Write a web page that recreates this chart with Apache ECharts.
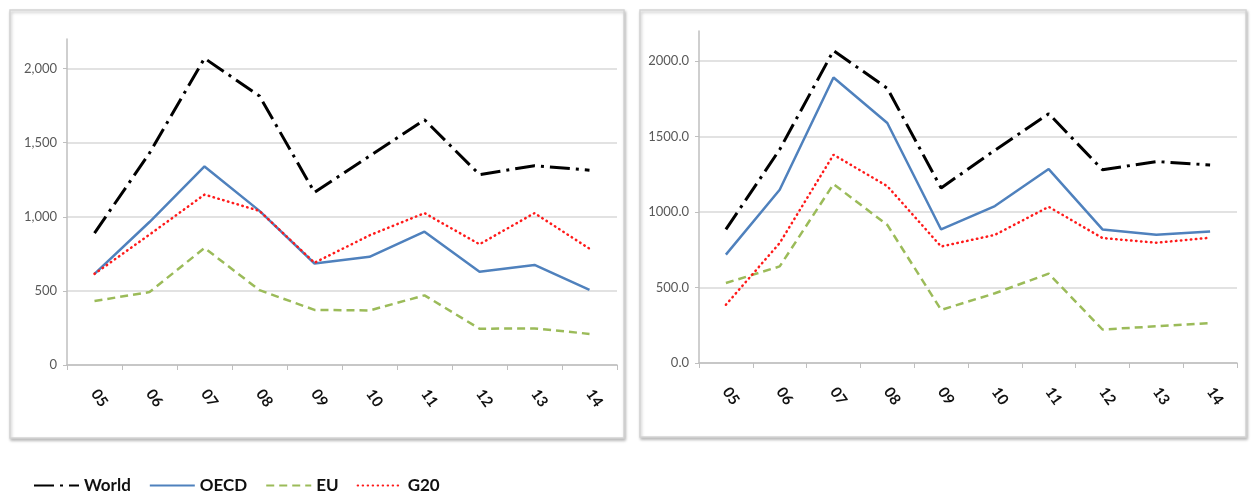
<!DOCTYPE html>
<html>
<head>
<meta charset="utf-8">
<script src="https://cdn.jsdelivr.net/npm/echarts@6/dist/echarts.min.js"></script>
<style>
html,body{margin:0;padding:0;background:#fff;}
#chart{width:1252px;height:491px;}
</style>
</head>
<body>
<div id="chart"></div>
<script>
const categories = ['05','06','07','08','09','10','11','12','13','14'];
const yTicksLeft = ['0','500','1,000','1,500','2,000'];
const yTicksRight = ['0.0','500.0','1000.0','1500.0','2000.0'];

// Left panel
const worldLeft = [890, 1430, 2070, 1815, 1165, 1410, 1655, 1285, 1345, 1315];
const oecdLeft  = [615, 965, 1340, 1040, 685, 730, 900, 630, 675, 507];
const euLeft    = [432, 492, 790, 505, 372, 368, 470, 245, 247, 210];
const g20Left   = [615, 880, 1150, 1040, 690, 875, 1025, 815, 1025, 785];

// Right panel
const worldRight = [885, 1415, 2070, 1820, 1160, 1410, 1652, 1280, 1335, 1312];
const oecdRight  = [718, 1148, 1892, 1590, 885, 1040, 1285, 885, 850, 872];
const euRight    = [530, 640, 1185, 915, 352, 462, 592, 222, 243, 265];
const g20Right   = [386, 795, 1380, 1172, 772, 849, 1035, 828, 797, 830];

const seriesNames = ['World','OECD','EU','G20'];

const styles = {
  World: {color:'#000000', width:3, type:[20,6,3,6], cap:'butt'},
  OECD:  {color:'#4f81bd', width:2.5, type:'solid', cap:'butt'},
  EU:    {color:'#9bbb59', width:2.5, type:[8,5], cap:'butt'},
  G20:   {color:'#ff1a1a', width:2.5, type:[0.5,4.5], cap:'round'}
};

function mk(name, data, idx){
  const s = styles[name];
  return {
    name: name, type:'line', data: data,
    xAxisIndex: idx, yAxisIndex: idx,
    symbol:'none', showSymbol:false, smooth:false,
    color: s.color,
    lineStyle:{color:s.color, width:s.width, type:s.type, cap:s.cap},
    z: name==='World'?5:(name==='OECD'?3:4)
  };
}

const gridColor = '#d9d9d9';
function yAxis(idx, labels){
  return {
    type:'value', gridIndex: idx, min:0, max:2200, interval:500,
    axisLine:{show:true, lineStyle:{color:'#bfbfbf', width:1.5}},
    axisTick:{show:true, length:4, lineStyle:{color:'#bfbfbf'}},
    splitLine:{show:true, lineStyle:{color:[gridColor,gridColor,gridColor,gridColor,gridColor,'rgba(0,0,0,0)'], width:1.5}},
    axisLabel:{
      color:'#595959', fontFamily:'Lato', fontSize:13, margin:10,
      showMaxLabel:false,
      formatter: function(v){ const i = Math.round(v/500); return labels[i] !== undefined && v%500===0 ? labels[i] : ''; }
    }
  };
}
function xAxis(idx){
  return {
    type:'category', gridIndex: idx, data: categories, boundaryGap:true,
    axisLine:{show:true, lineStyle:{color:'#bfbfbf', width:1.5}},
    axisTick:{show:true, length:5, alignWithLabel:false, lineStyle:{color:'#bfbfbf'}},
    axisLabel:{rotate:-55, color:'#111', fontFamily:'Lato', fontWeight:'bold', fontSize:15, margin:26, interval:0}
  };
}

const chart = echarts.init(document.getElementById('chart'));
const series = [];
seriesNames.forEach(n=>{
  const d = {World:worldLeft, OECD:oecdLeft, EU:euLeft, G20:g20Left}[n];
  series.push(mk(n, d, 0));
});
seriesNames.forEach(n=>{
  const d = {World:worldRight, OECD:oecdRight, EU:euRight, G20:g20Right}[n];
  series.push(mk(n, d, 1));
});

chart.setOption({
  animation:false,
  backgroundColor:'#ffffff',
  graphic:[
    {type:'rect', shape:{x:10, y:10, width:614, height:428}, style:{fill:'#fff', stroke:'#d4d4d4', lineWidth:1.5, shadowBlur:3, shadowOffsetX:1, shadowOffsetY:2, shadowColor:'rgba(0,0,0,0.25)'}, z:-10, silent:true},
    {type:'rect', shape:{x:640, y:10, width:606, height:427}, style:{fill:'#fff', stroke:'#d4d4d4', lineWidth:1.5, shadowBlur:3, shadowOffsetX:1, shadowOffsetY:2, shadowColor:'rgba(0,0,0,0.25)'}, z:-10, silent:true}
  ],
  grid:[
    {left:67, right:635, top:39, bottom:126},
    {left:699, right:15, top:31, bottom:128}
  ],
  xAxis:[xAxis(0), xAxis(1)],
  yAxis:[yAxis(0, yTicksLeft), yAxis(1, yTicksRight)],
  legend:{
    data: seriesNames,
    left:28, top:472, itemWidth:45, itemHeight:14, itemGap:18,
    itemStyle:{opacity:0},
    textStyle:{fontFamily:'Lato', fontWeight:'bold', fontSize:17, color:'#111'}
  },
  series: series
});
</script>
</body>
</html>
